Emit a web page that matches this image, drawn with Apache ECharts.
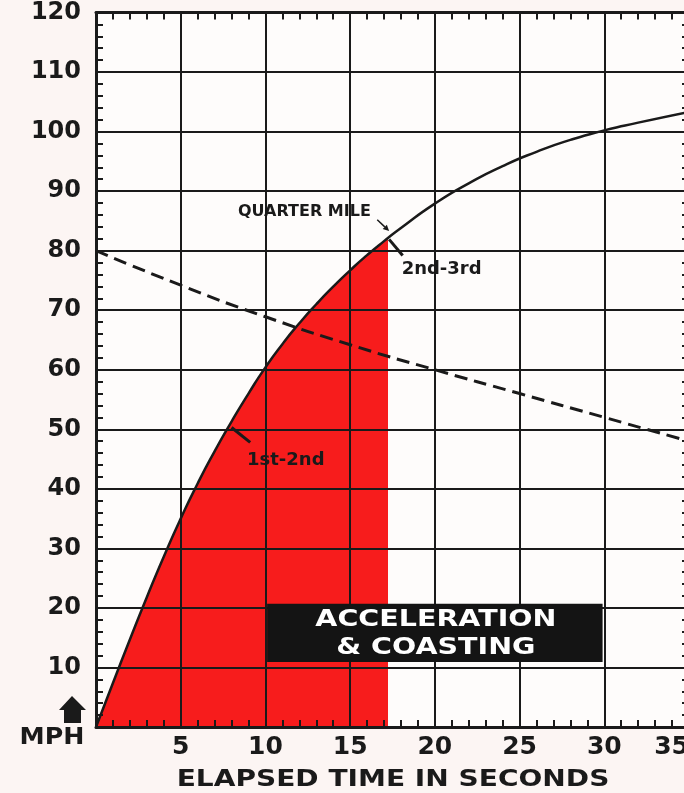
<!DOCTYPE html>
<html><head><meta charset="utf-8">
<script src="https://cdn.jsdelivr.net/npm/echarts@6/dist/echarts.min.js"></script>
<style>html,body{margin:0;padding:0;background:#fcf5f3;}#c{width:684px;height:793px;}</style>
</head><body><div id="c"></div>
<script>
// ---- data ----
const accelTime = [0, 1, 2, 3, 4, 5, 6, 7, 8, 9, 10, 11, 12, 13, 14, 15, 16, 17, 18, 20, 22, 24, 26, 28, 30, 32, 35];
const accelMph  = [0, 7.4, 14.7, 21.8, 28.6, 35.0, 40.9, 46.3, 51.3, 56.0, 60.4, 64.3, 67.8, 71.0, 73.95, 76.7, 79.25, 81.6, 83.8, 87.9, 91.3, 94.2, 96.6, 98.6, 100.2, 101.5, 103.3];
const coastTime = [0, 5, 10, 15, 20, 25, 30, 35];
const coastMph  = [80, 74.2, 68.9, 64.2, 60, 56, 52, 48];
const quarterMileTime = 17.25;
const xTickValues = [0, 5, 10, 15, 20, 25, 30, 35];
const yTickValues = [0, 10, 20, 30, 40, 50, 60, 70, 80, 90, 100, 110, 120];
const gearShifts = [
  { label: '1st-2nd', at: [8.0, 50.3], to: [9.1, 47.8], text: [11.2, 44.8] },
  { label: '2nd-3rd', at: [17.3, 81.9], to: [18.1, 79.2], text: [20.4, 76.8] }
];
const quarterMileNote = { label: 'QUARTER MILE', from: [16.6, 85.2], to: [17.3, 83.3], text: [12.3, 86.6] };
const legendBox = { label: 'ACCELERATION\n& COASTING', x: [10.1, 29.9], y: [10.9, 20.7] };

const INK = '#1a1a1a';
const RED = '#f71c1c';
const FONT = '"DejaVu Sans", sans-serif';
const SMOOTH = 0.6;

const accelData = accelTime.map((t, i) => [t, accelMph[i]]);
const coastData = coastTime.map((t, i) => [t, coastMph[i]]);

const xMin = xTickValues[0], xMax = xTickValues[xTickValues.length - 1], xStep = xTickValues[1] - xTickValues[0];
const yMin = yTickValues[0], yMax = yTickValues[yTickValues.length - 1], yStep = yTickValues[1] - yTickValues[0];

// hard-edged fill: red up to the quarter-mile time, transparent after
const qmFrac = (quarterMileTime - accelTime[0]) / (accelTime[accelTime.length - 1] - accelTime[0]);
const areaFill = new echarts.graphic.LinearGradient(0, 0, 1, 0, [
  { offset: 0, color: RED }, { offset: qmFrac, color: RED },
  { offset: qmFrac, color: 'rgba(255,255,255,0)' }, { offset: 1, color: 'rgba(255,255,255,0)' }
]);

function xAxisBase(pos) {
  return {
    type: 'value', position: pos, min: xMin, max: xMax, interval: xStep, z: 5,
    axisLine: { show: true, onZero: false, lineStyle: { color: INK, width: 3 } },
    axisTick: { show: true, inside: true, length: 7, lineStyle: { color: INK, width: 2 } },
    minorTick: { show: true, splitNumber: 5, length: 7, lineStyle: { color: INK, width: 2 } },
    splitLine: { show: pos === 'bottom', lineStyle: { color: INK, width: 2 } },
    axisLabel: pos === 'bottom' ? {
      show: true, showMinLabel: false, alignMaxLabel: 'right', margin: 8,
      color: INK, fontFamily: FONT, fontWeight: 'bold', fontSize: 25
    } : { show: false }
  };
}
function yAxisBase(pos) {
  return {
    type: 'value', position: pos, min: yMin, max: yMax, interval: yStep, z: 5,
    axisLine: { show: true, onZero: false, lineStyle: { color: INK, width: 3 } },
    axisTick: { show: true, inside: true, length: 7, lineStyle: { color: INK, width: 2 } },
    minorTick: { show: true, splitNumber: 5, length: 7, lineStyle: { color: INK, width: 2 } },
    splitLine: { show: pos === 'left', lineStyle: { color: INK, width: 2 } },
    axisLabel: pos === 'left' ? {
      show: true, showMinLabel: false, margin: 15, padding: [4, 0, 0, 0],
      color: INK, fontFamily: FONT, fontWeight: 'bold', fontSize: 24
    } : { show: false }
  };
}

const chart = echarts.init(document.getElementById('c'), null, { renderer: 'canvas' });
chart.setOption({
  backgroundColor: '#fcf5f3',
  animation: false,
  grid: { left: 96, right: -5, top: 12.5, bottom: 66, show: true, backgroundColor: '#fefcfb', borderWidth: 0,
          containLabel: false, outerBoundsMode: 'none' },
  xAxis: [xAxisBase('bottom'), xAxisBase('top')],
  yAxis: [yAxisBase('left'), yAxisBase('right')],
  series: [
    {
      name: 'Quarter mile area', type: 'line', data: accelData, smooth: SMOOTH,
      showSymbol: false, lineStyle: { width: 0, opacity: 0 }, areaStyle: { color: areaFill, opacity: 1 }, z: 1, silent: true
    },
    {
      name: 'Acceleration', type: 'line', data: accelData, smooth: SMOOTH,
      showSymbol: false, lineStyle: { color: INK, width: 2.5 }, z: 3
    },
    {
      name: 'Coasting', type: 'line', data: coastData, smooth: SMOOTH,
      showSymbol: false, lineStyle: { color: INK, width: 3, type: [13, 7] }, z: 3
    }
  ]
});

const P = p => chart.convertToPixel({ gridIndex: 0 }, p);
const g = [];
gearShifts.forEach(s => {
  const a = P(s.at), b = P(s.to), c = P(s.text);
  g.push({ type: 'line', z: 20, shape: { x1: a[0], y1: a[1], x2: b[0], y2: b[1] }, style: { stroke: INK, lineWidth: 3 } });
  g.push({ type: 'text', z: 20, x: c[0], y: c[1], style: { text: s.label, x: 0, y: 0, align: 'center', verticalAlign: 'middle', font: 'bold 18px ' + FONT, fill: INK } });
});
(function () {
  const a = P(quarterMileNote.from), b = P(quarterMileNote.to), c = P(quarterMileNote.text);
  const dx = b[0] - a[0], dy = b[1] - a[1], L = Math.hypot(dx, dy), ux = dx / L, uy = dy / L;
  const hl = 6, hw = 3;
  g.push({ type: 'line', z: 20, shape: { x1: a[0], y1: a[1], x2: b[0] - ux * hl, y2: b[1] - uy * hl }, style: { stroke: INK, lineWidth: 1.5 } });
  g.push({ type: 'polygon', z: 20, shape: { points: [[b[0], b[1]], [b[0] - ux * hl - uy * hw, b[1] - uy * hl + ux * hw], [b[0] - ux * hl + uy * hw, b[1] - uy * hl - ux * hw]] }, style: { fill: INK } });
  g.push({ type: 'text', z: 20, x: c[0], y: c[1], style: { text: quarterMileNote.label, x: 0, y: 0, align: 'center', verticalAlign: 'middle', font: 'bold 16px ' + FONT, fill: INK } });
})();
(function () {
  const p1 = P([legendBox.x[0], legendBox.y[1]]), p2 = P([legendBox.x[1], legendBox.y[0]]);
  g.push({ type: 'rect', z: 30, shape: { x: p1[0], y: p1[1], width: p2[0] - p1[0], height: p2[1] - p1[1] }, style: { fill: '#141414' } });
  g.push({ type: 'text', z: 31, x: (p1[0] + p2[0]) / 2 + 1, y: (p1[1] + p2[1]) / 2 + 1, scaleX: 1.24,
    style: { text: legendBox.label, x: 0, y: 0, align: 'center', verticalAlign: 'middle', lineHeight: 28, font: 'bold 23px ' + FONT, fill: '#ffffff' } });
})();
const origin = P([xMin, yMin]);
g.push({ type: 'text', z: 20, x: 393, y: 780, scaleX: 1.22, style: { text: 'ELAPSED TIME IN SECONDS', x: 0, y: 0, align: 'center', verticalAlign: 'middle', font: 'bold 23px ' + FONT, fill: INK } });
g.push({ type: 'text', z: 20, x: origin[0] - 44, y: origin[1] + 11, scaleX: 1.1, style: { text: 'MPH', x: 0, y: 0, align: 'center', verticalAlign: 'middle', font: 'bold 23px ' + FONT, fill: INK } });
// block "up" arrow above MPH
const ox = origin[0], oy = origin[1];
g.push({ type: 'polygon', z: 20, shape: { points: [
  [ox - 24, oy - 31], [ox - 10, oy - 17], [ox - 15, oy - 17], [ox - 15, oy - 4],
  [ox - 32, oy - 4], [ox - 32, oy - 17], [ox - 37, oy - 17]
] }, style: { fill: INK } });
chart.setOption({ graphic: g });
</script></body></html>
